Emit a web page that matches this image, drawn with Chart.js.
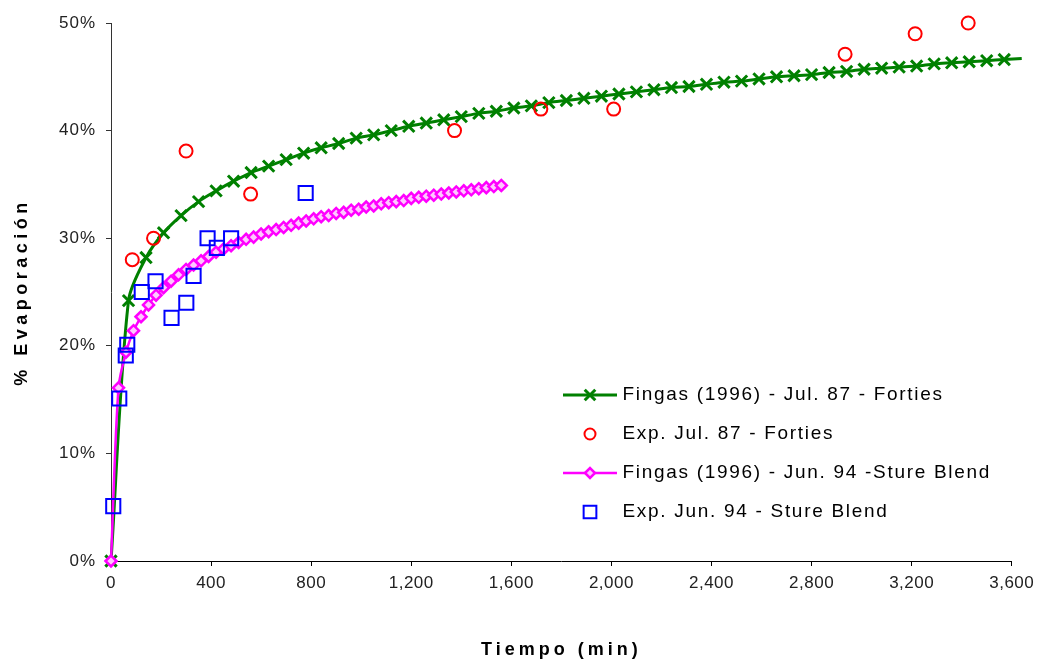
<!DOCTYPE html>
<html>
<head>
<meta charset="utf-8">
<script src="https://cdn.jsdelivr.net/npm/chart.js@4.4.1/dist/chart.umd.min.js"></script>
<style>
html,body{margin:0;padding:0;background:#fff;}
#wrap{width:1040px;height:661px;position:relative;}
canvas{display:block;}
</style>
</head>
<body>
<div id="wrap"><canvas id="c" width="1040" height="661"></canvas></div>
<script>
// ---------- DATA ----------
const seriesNames = [
  'Fingas (1996) - Jul. 87 - Forties',
  'Exp. Jul. 87 - Forties',
  'Fingas (1996) - Jun. 94 -Sture Blend',
  'Exp. Jun. 94 - Sture Blend'
];
const xAxisTitle = 'Tiempo (min)';
const yAxisTitle = '% Evaporación';

// Fingas (1996) - Jul. 87 - Forties (time in min, % evaporated)
const fingasFortiesTime = [0,70,140,210,280,350,420,490,560,630,700,770,840,910,980,1050,1120,1190,1260,1330,1400,1470,1540,1610,1680,1750,1820,1890,1960,2030,2100,2170,2240,2310,2380,2450,2520,2590,2660,2730,2800,2870,2940,3010,3080,3150,3220,3290,3360,3430,3500,3570,3640];
const fingasFortiesValue = [0,24.2,28.2,30.5,32.1,33.4,34.4,35.3,36.1,36.7,37.3,37.9,38.4,38.8,39.3,39.6,40.0,40.4,40.7,41.0,41.3,41.6,41.8,42.1,42.3,42.6,42.8,43.0,43.2,43.4,43.6,43.8,44.0,44.1,44.3,44.5,44.6,44.8,45.0,45.1,45.2,45.4,45.5,45.7,45.8,45.9,46.0,46.2,46.3,46.4,46.5,46.6,46.7];

// Exp. Jul. 87 - Forties
const expFortiesTime = [85,170,300,558,1373,1718,2009,2934,3214,3426];
const expFortiesValue = [28.0,30.0,38.1,34.1,40.0,42.0,42.0,47.1,49.0,50.0];

// Fingas (1996) - Jun. 94 - Sture Blend
const fingasStureTime = [0,30,60,90,120,150,180,210,240,270,300,330,360,390,420,450,480,510,540,570,600,630,660,690,720,750,780,810,840,870,900,930,960,990,1020,1050,1080,1110,1140,1170,1200,1230,1260,1290,1320,1350,1380,1410,1440,1470,1500,1530,1560];
const fingasStureValue = [0,16.1,19.4,21.4,22.7,23.8,24.7,25.4,26.0,26.6,27.1,27.5,27.9,28.3,28.7,29.0,29.3,29.6,29.9,30.1,30.4,30.6,30.8,31.0,31.2,31.4,31.6,31.8,32.0,32.1,32.3,32.4,32.6,32.7,32.9,33.0,33.2,33.3,33.4,33.5,33.7,33.8,33.9,34.0,34.1,34.2,34.3,34.4,34.5,34.6,34.7,34.8,34.9];

// Exp. Jun. 94 - Sture Blend
const expStureTime = [9,33,59,65,123,178,242,301,330,386,423,480,778];
const expStureValue = [5.1,15.1,19.1,20.1,25.0,26.0,22.6,24.0,26.5,30.0,29.1,30.0,34.2];

// Axis ticks
const xTickValues = [0,400,800,1200,1600,2000,2400,2800,3200,3600];
const yTickValues = [0,10,20,30,40,50];

// ---------- STYLE ----------
const GREEN = '#008000', RED = '#ff0000', MAGENTA = '#ff00ff', BLUE = '#0000ff';
const FONT = '"Liberation Sans", Arial, sans-serif';
const X_MIN = xTickValues[0], X_MAX = xTickValues[xTickValues.length - 1];
const Y_MIN = yTickValues[0], Y_MAX = yTickValues[yTickValues.length - 1];

const pts = (xs, ys) => xs.map((x, i) => ({x: x, y: ys[i]}));

const datasets = [
  {
    label: seriesNames[0],
    data: pts(fingasFortiesTime, fingasFortiesValue),
    showLine: true, borderColor: GREEN, borderWidth: 3, tension: 0.3,
    pointStyle: 'crossRot',
    pointRadius: (c) => (c.raw && c.raw.x > X_MAX) ? 0 : 8,
    pointBorderColor: GREEN, pointBackgroundColor: GREEN, pointBorderWidth: 3,
    clip: false, order: 4, _legendLine: true, _legendRadius: 7.5
  },
  {
    label: seriesNames[1],
    data: pts(expFortiesTime, expFortiesValue),
    showLine: false, borderColor: RED,
    pointStyle: 'circle', pointRadius: 6.5,
    pointBorderColor: RED, pointBackgroundColor: 'rgba(0,0,0,0)', pointBorderWidth: 2,
    clip: false, order: 3, _legendLine: false, _legendRadius: 5.5
  },
  {
    label: seriesNames[2],
    data: pts(fingasStureTime, fingasStureValue),
    showLine: true, borderColor: MAGENTA, borderWidth: 2.5, tension: 0.3,
    pointStyle: 'rectRot', pointRadius: 5.5,
    pointBorderColor: MAGENTA, pointBackgroundColor: '#ffc8ff', pointBorderWidth: 2.5,
    clip: false, order: 2, _legendLine: true, _legendRadius: 5
  },
  {
    label: seriesNames[3],
    data: pts(expStureTime, expStureValue),
    showLine: false, borderColor: BLUE,
    pointStyle: 'rect', pointRadius: 10,
    pointBorderColor: BLUE, pointBackgroundColor: 'rgba(0,0,0,0)', pointBorderWidth: 2,
    clip: false, order: 1, _legendLine: false, _legendRadius: 9
  }
];

// legend symbol (line + marker, as in the original legend)
function legendSymbol(ds) {
  const c = document.createElement('canvas');
  c.width = 54; c.height = 20;
  const g = c.getContext('2d');
  const cx = c.width / 2, cy = c.height / 2;
  if (ds._legendLine) {
    g.strokeStyle = ds.borderColor; g.lineWidth = ds.borderWidth;
    g.beginPath(); g.moveTo(0, cy); g.lineTo(c.width, cy); g.stroke();
  }
  g.strokeStyle = ds.pointBorderColor;
  g.fillStyle = ds.pointBackgroundColor;
  g.lineWidth = ds.pointBorderWidth;
  Chart.helpers.drawPoint(g, {pointStyle: ds.pointStyle, rotation: 0, radius: ds._legendRadius, borderWidth: ds.pointBorderWidth}, cx, cy);
  return c;
}

// letter spacing to mimic the stretched Excel text rendering
const spacingPlugin = {
  id: 'spacing',
  afterLayout(chart) {
    const ctx = chart.ctx;
    const wrap = (obj, name, sp) => {
      if (!obj || obj['_w_' + name]) return;
      const orig = obj[name];
      obj[name] = function () {
        ctx.save();
        try { ctx.letterSpacing = sp; } catch (e) {}
        const r = orig.apply(this, arguments);
        ctx.restore();
        return r;
      };
      obj['_w_' + name] = true;
    };
    wrap(chart.scales.x, 'drawTitle', '4px');
    wrap(chart.scales.y, 'drawTitle', '4.5px');
    wrap(chart.scales.x, 'drawLabels', '0.5px');
    wrap(chart.scales.y, 'drawLabels', '1px');
    wrap(chart.legend, 'draw', '1.7px');
    // place the legend inside the plot, lower right (as in the original)
    const lg = chart.legend;
    if (lg) {
      const pad = lg.options.labels.padding;
      lg.left = 547;
      lg.top = 395 - 9.5 - pad;
      lg.right = lg.left + 470;
      lg.bottom = chart.chartArea.bottom;
    }
  }
};

const symbols = datasets.map(legendSymbol);

const chart = new Chart(document.getElementById('c'), {
  type: 'scatter',
  data: { datasets: datasets },
  options: {
    responsive: false,
    animation: false,
    devicePixelRatio: 1,
    layout: { padding: { left: 0, right: 28, top: 23, bottom: 0 } },
    plugins: {
      tooltip: { enabled: false },
      legend: {
        display: true,
        position: 'chartArea',
        align: 'start',
        labels: {
          usePointStyle: true,
          pointStyleWidth: 46,
          padding: 20,
          color: '#000',
          font: { family: FONT, size: 19 },
          sort: (a, b) => a.datasetIndex - b.datasetIndex,
          generateLabels: (ch) => {
            const items = Chart.defaults.plugins.legend.labels.generateLabels(ch);
            items.forEach(it => { it.pointStyle = symbols[it.datasetIndex]; });
            return items;
          }
        }
      }
    },
    scales: {
      x: {
        type: 'linear', min: X_MIN, max: X_MAX,
        afterBuildTicks: (s) => { s.ticks = xTickValues.map(v => ({value: v})); },
        afterFit: (s) => { s.height = 100; },
        ticks: {
          color: '#222', padding: 7, maxRotation: 0, autoSkip: false,
          font: { family: FONT, size: 17 },
          callback: (v) => Number(v).toLocaleString('en-US')
        },
        grid: { display: true, drawOnChartArea: false, drawTicks: true, tickLength: 5, color: '#000', lineWidth: 1 },
        border: { display: true, color: '#000', width: 1 },
        title: {
          display: true, text: xAxisTitle, color: '#000', padding: 0,
          font: { family: FONT, size: 18, weight: 'bold', lineHeight: 1.2 }
        }
      },
      y: {
        type: 'linear', min: Y_MIN, max: Y_MAX,
        afterBuildTicks: (s) => { s.ticks = yTickValues.map(v => ({value: v})); },
        afterFit: (s) => { s.width = 111; },
        ticks: {
          color: '#222', padding: 10,
          font: { family: FONT, size: 17 },
          callback: (v) => v + '%'
        },
        grid: { display: true, drawOnChartArea: false, drawTicks: true, tickLength: 5, color: '#333', lineWidth: 1 },
        border: { display: true, color: '#333', width: 1 },
        title: {
          display: true, text: yAxisTitle, color: '#000', padding: { top: 11, bottom: 0 },
          font: { family: FONT, size: 18, weight: 'bold', lineHeight: 1.2 }
        }
      }
    }
  },
  plugins: [spacingPlugin]
});
</script>
</body>
</html>
